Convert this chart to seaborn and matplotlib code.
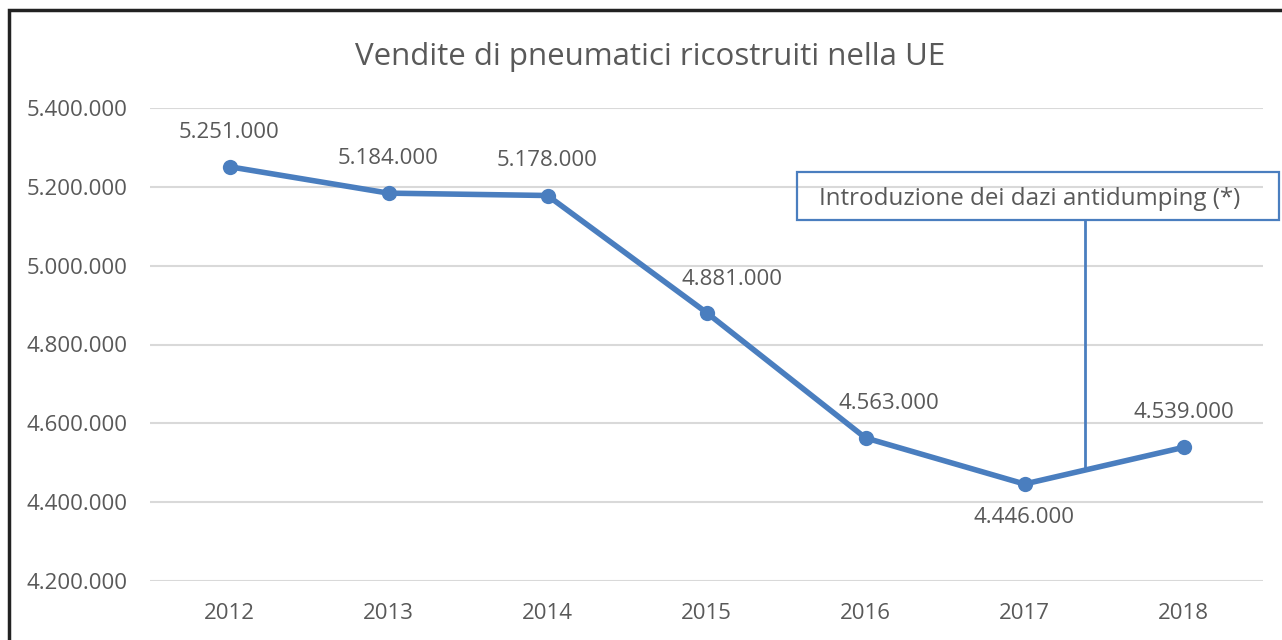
import matplotlib
matplotlib.use("Agg")
import matplotlib.pyplot as plt
import seaborn as sns
import pandas as pd
from matplotlib.patches import Rectangle
from matplotlib.ticker import FuncFormatter

years = ["2012", "2013", "2014", "2015", "2016", "2017", "2018"]
sales = [5251000, 5184000, 5178000, 4881000, 4563000, 4446000, 4539000]
y_ticks = [4200000, 4400000, 4600000, 4800000, 5000000, 5200000, 5400000]
title = "Vendite di pneumatici ricostruiti nella UE"
note = "Introduzione dei dazi antidumping (*)"

sns.set_theme(style="white")
plt.rcParams["font.family"] = ["Open Sans", "DejaVu Sans"]

BLUE = "#4A7EBF"
GRAY = "#595959"

def it_fmt(v):
    return f"{int(round(v)):,}".replace(",", ".")

df = pd.DataFrame({"anno": years, "vendite": sales})

fig = plt.figure(figsize=(12.82, 6.4), dpi=100)
ax = fig.add_axes([150/1282, 1-581/640, (1263-150)/1282, (581-108)/640])

sns.lineplot(data=df, x="anno", y="vendite", ax=ax, color=BLUE, linewidth=4,
             marker="o", markersize=11, markeredgewidth=0, sort=False)

ax.set_xlim(-0.5, 6.5)
ax.set_ylim(4200000, 5400000)
ax.set_yticks(y_ticks)
ax.yaxis.set_major_formatter(FuncFormatter(lambda v, p: it_fmt(v)))
ax.grid(axis="y", color="#d9d9d9", linewidth=1.5)
ax.grid(axis="x", visible=False)
for s in ax.spines.values():
    s.set_visible(False)
ax.tick_params(axis="both", length=0, labelsize=16, colors=GRAY)
ax.tick_params(axis="y", pad=16)
ax.tick_params(axis="x", pad=16)
ax.set_xlabel("")
ax.set_ylabel("")

# data labels (offsets in points)
offsets = {3: (18, 24), 4: (17, 25), 5: (0, -24)}
for i, v in enumerate(sales):
    dx, dy = offsets.get(i, (0, 25))
    ax.annotate(it_fmt(v), (i, v), xytext=(dx, dy), textcoords="offset points",
                ha="center", va="center", fontsize=16, color=GRAY)

# annotation callout
x_conn = 5.38
y_conn = sales[5] + (sales[6] - sales[5]) * (x_conn - 5)
box_top_px, box_bot_px = 172, 220
to_val = lambda py: 5400000 - (py - 108) / (581 - 108) * 1200000
ax.plot([x_conn, x_conn], [y_conn, to_val(box_bot_px)], color=BLUE, lw=2, zorder=3)
fig.patches.append(Rectangle((797/1282, 1-box_bot_px/640), (1279-797)/1282,
                             (box_bot_px-box_top_px)/640, transform=fig.transFigure,
                             fill=False, ec=BLUE, lw=1.6, figure=fig, zorder=4))
fig.text(1030/1282, 1-199/640, note, ha="center", va="center", fontsize=17.4,
         color=GRAY, zorder=5)

fig.text(650/1282, 1-57/640, title, ha="center", va="center", fontsize=22.5, color=GRAY)

# outer frame
fig.patches.append(Rectangle((9/1282, -0.05), 1.1, 1-10/640+0.05, transform=fig.transFigure,
                             fill=False, ec="#222222", lw=2.5, figure=fig))

fig.savefig("out.png", dpi=100)
